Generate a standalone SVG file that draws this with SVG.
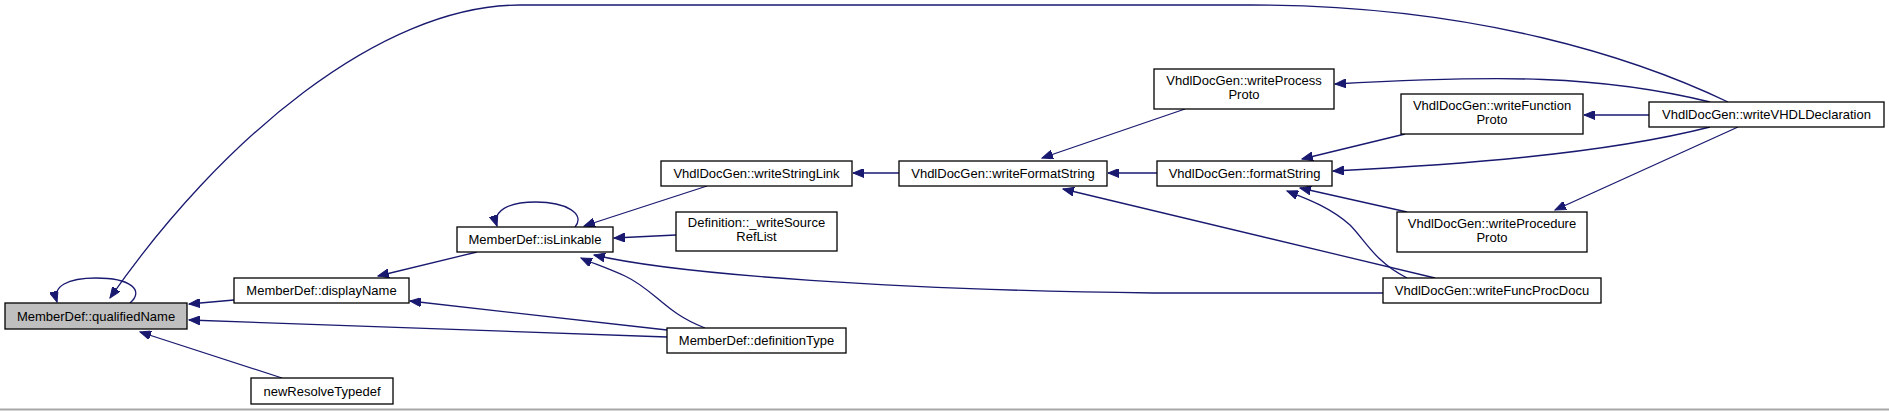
<svg xmlns="http://www.w3.org/2000/svg" width="1889" height="411" viewBox="0 0 1889 411">
<style>
.n rect{fill:#ffffff;stroke:#000000;stroke-width:1.3}
.n.root rect{fill:#bfbfbf}
.n text{font-family:"Liberation Sans",Arial,sans-serif;font-size:13px;fill:#000000;text-anchor:middle}
.e path{fill:none;stroke:#191970;stroke-width:1.3;marker-end:url(#ah)}
</style>
<defs>
<marker id="ah" markerUnits="userSpaceOnUse" markerWidth="12" markerHeight="9" refX="11" refY="4.5" orient="auto">
<path d="M0,0 L11,4.5 L0,9 z" fill="#191970" stroke="#191970" stroke-width="1"/>
</marker>
</defs>
<rect x="0" y="0" width="1889" height="411" fill="#ffffff"/>
<line x1="0" y1="409.5" x2="1889" y2="409.5" stroke="#a8a8a8" stroke-width="2"/>
<g id="connectors" class="e">
<path d="M234,300 L189,304"/>
<path d="M667,337 L189,320"/>
<path d="M282,378 L140,332"/>
<path d="M1728,102 C1640,60 1480,5 1250,5 L520,5 C380,5 220,140 110,298"/>
<path d="M130,303 C145,290 130,278 96,278 C68,278 52,286 57,302"/>
<path d="M477,252 L378,276"/>
<path d="M667,330 L410,301"/>
<path d="M575,227 C586,214 566,202 536,202 C508,202 492,211 497,226"/>
<path d="M707,186 L584,226"/>
<path d="M676,235 L614,238"/>
<path d="M1383,293 L1153,293 C900,290 680,275 594,255"/>
<path d="M705,328 C665,313 655,290 625,276 C605,267 592,263 581,258"/>
<path d="M899,173 L853,173"/>
<path d="M1185,109 L1042,158"/>
<path d="M1157,173 L1108,173"/>
<path d="M1435,278 L1063,189"/>
<path d="M1405,134 L1302,159"/>
<path d="M1407,212 L1300,188"/>
<path d="M1407,278 C1375,262 1365,240 1350,225 C1330,207 1305,198 1287,191"/>
<path d="M1710,102 C1600,75 1500,75 1335,84"/>
<path d="M1649,115 L1584,115"/>
<path d="M1710,127 C1600,155 1450,165 1333,171"/>
<path d="M1738,127 L1555,210"/>
</g>
<g id="qualifiedName" class="n root"><rect x="5" y="303" width="182" height="26"/><text x="96" y="320.5">MemberDef::qualifiedName</text></g>
<g id="displayName" class="n"><rect x="234" y="278" width="175" height="25"/><text x="321.5" y="295">MemberDef::displayName</text></g>
<g id="newResolveTypedef" class="n"><rect x="251" y="378" width="142" height="26"/><text x="322" y="395.5">newResolveTypedef</text></g>
<g id="isLinkable" class="n"><rect x="457" y="227" width="156" height="25"/><text x="535" y="244">MemberDef::isLinkable</text></g>
<g id="writeStringLink" class="n"><rect x="661" y="161" width="191" height="25"/><text x="756.5" y="178">VhdlDocGen::writeStringLink</text></g>
<g id="writeSourceRefList" class="n"><rect x="676" y="212" width="161" height="39"/><text x="756.5" y="227">Definition::_writeSource</text><text x="756.5" y="241">RefList</text></g>
<g id="definitionType" class="n"><rect x="667" y="328" width="179" height="25"/><text x="756.5" y="345">MemberDef::definitionType</text></g>
<g id="writeFormatString" class="n"><rect x="899" y="161" width="208" height="25"/><text x="1003" y="178">VhdlDocGen::writeFormatString</text></g>
<g id="writeProcessProto" class="n"><rect x="1154" y="69" width="180" height="40"/><text x="1244" y="85">VhdlDocGen::writeProcess</text><text x="1244" y="99">Proto</text></g>
<g id="formatString" class="n"><rect x="1157" y="161" width="175" height="25"/><text x="1244.5" y="178">VhdlDocGen::formatString</text></g>
<g id="writeFunctionProto" class="n"><rect x="1401" y="94" width="182" height="40"/><text x="1492" y="110">VhdlDocGen::writeFunction</text><text x="1492" y="124">Proto</text></g>
<g id="writeProcedureProto" class="n"><rect x="1397" y="212" width="190" height="40"/><text x="1492" y="228">VhdlDocGen::writeProcedure</text><text x="1492" y="242">Proto</text></g>
<g id="writeFuncProcDocu" class="n"><rect x="1383" y="278" width="218" height="25"/><text x="1492" y="295">VhdlDocGen::writeFuncProcDocu</text></g>
<g id="writeVHDLDeclaration" class="n"><rect x="1649" y="102" width="235" height="25"/><text x="1766.5" y="119">VhdlDocGen::writeVHDLDeclaration</text></g>
</svg>
